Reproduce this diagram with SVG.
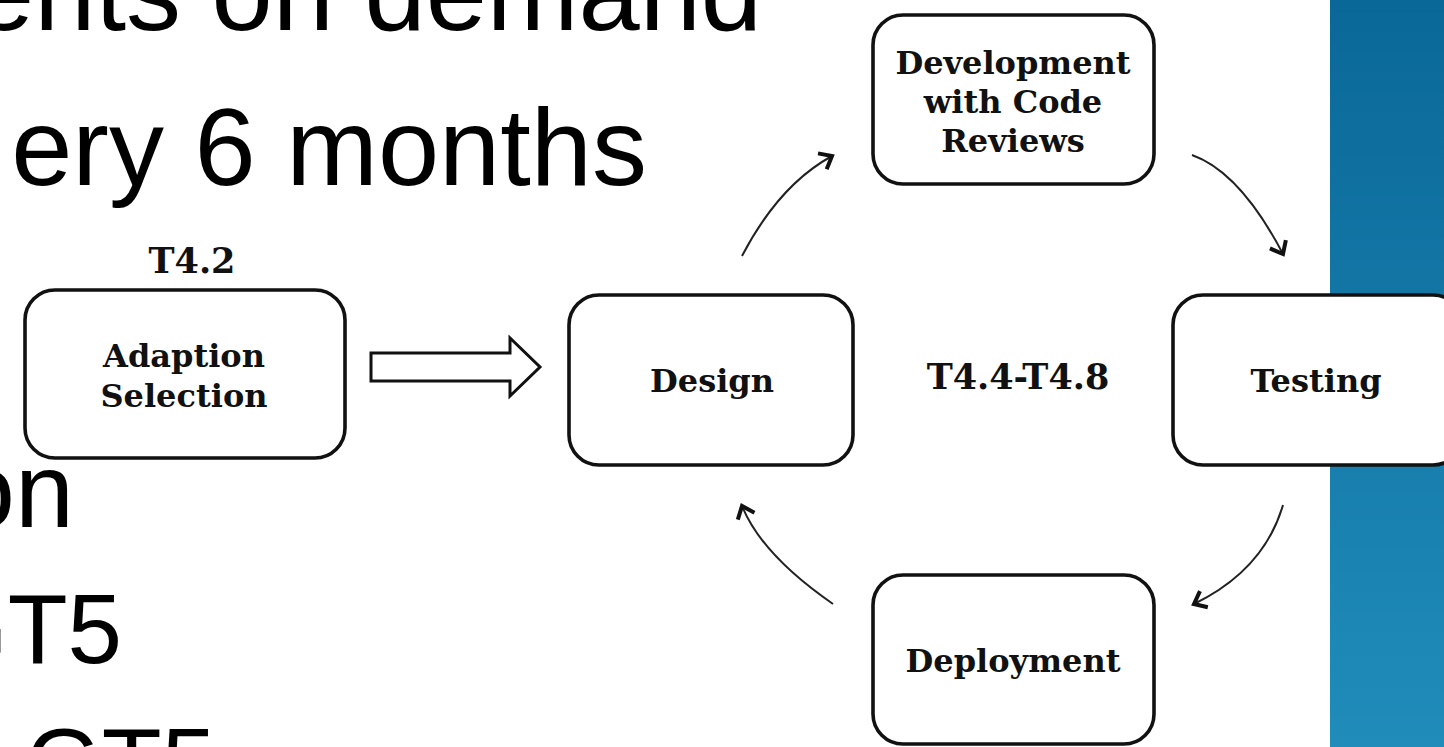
<svg xmlns="http://www.w3.org/2000/svg" width="1444" height="747" viewBox="0 0 1444 747">
<defs>
<linearGradient id="blue" x1="0" y1="0" x2="0" y2="1">
<stop offset="0" stop-color="#0a6898"/>
<stop offset="1" stop-color="#208cba"/>
</linearGradient>
<marker id="ah" viewBox="0 0 24 24" refX="15" refY="12" markerWidth="24" markerHeight="24" markerUnits="userSpaceOnUse" orient="auto">
<path d="M4,3 L15,12 L4,21" fill="none" stroke="#111" stroke-width="4" stroke-linejoin="miter"/>
</marker>
<style>
.bg{font-family:"Liberation Sans",Arial,sans-serif;fill:#000}
.box{fill:#fff;stroke:#111;stroke-width:3.6}
.lbl{font-family:"DejaVu Serif","Liberation Serif",serif;font-weight:bold;font-size:32px;fill:#111;text-anchor:middle}
.tag{font-family:"DejaVu Serif","Liberation Serif",serif;font-weight:bold;font-size:35px;fill:#111;text-anchor:middle}
.cv{fill:none;stroke:#222;stroke-width:2;marker-end:url(#ah)}
</style>
</defs>
<rect x="0" y="0" width="1444" height="747" fill="#fff"/>
<rect x="1330" y="0" width="114" height="747" fill="url(#blue)"/>
<g id="slide-text" class="bg">
<text x="762" y="30" font-size="110" text-anchor="end">ents on demand</text>
<text x="647" y="185" font-size="110" text-anchor="end">ery 6 months</text>
<text x="74" y="527" font-size="106" text-anchor="end">on</text>
<text x="122" y="663" font-size="98" text-anchor="end">GT5</text>
<text x="216" y="797" font-size="98" text-anchor="end">GT5</text>
</g>
<g id="connectors">
<path d="M371,353 L510,353 L510,338 L540,367 L510,396 L510,381 L371,381 Z" fill="#fff" stroke="#111" stroke-width="3" stroke-linejoin="miter"/>
<path class="cv" d="M742,256 Q779,185 832,156"/>
<path class="cv" d="M1192,155 Q1240,172 1283,254"/>
<path class="cv" d="M1283,505 Q1264,570 1194,604"/>
<path class="cv" d="M833,604 Q762,555 742,506"/>
</g>
<g id="t42"><text class="tag" x="192" y="273">T4.2</text></g>
<g id="adaption">
<rect class="box" x="25" y="290" width="320" height="168" rx="30"/>
<text class="lbl" x="184" y="367">Adaption</text>
<text class="lbl" x="184" y="407">Selection</text>
</g>
<g id="design">
<rect class="box" x="569" y="295" width="284" height="170" rx="30"/>
<text class="lbl" x="712" y="392">Design</text>
</g>
<g id="t44"><text class="tag" x="1018" y="389">T4.4-T4.8</text></g>
<g id="development">
<rect class="box" x="873" y="15" width="281" height="169" rx="30"/>
<text class="lbl" x="1013" y="74">Development</text>
<text class="lbl" x="1013" y="113">with Code</text>
<text class="lbl" x="1013" y="152">Reviews</text>
</g>
<g id="testing">
<rect class="box" x="1173" y="295" width="290" height="170" rx="30"/>
<text class="lbl" x="1316" y="392">Testing</text>
</g>
<g id="deployment">
<rect class="box" x="873" y="575" width="281" height="169" rx="30"/>
<text class="lbl" x="1013" y="672">Deployment</text>
</g>
</svg>
